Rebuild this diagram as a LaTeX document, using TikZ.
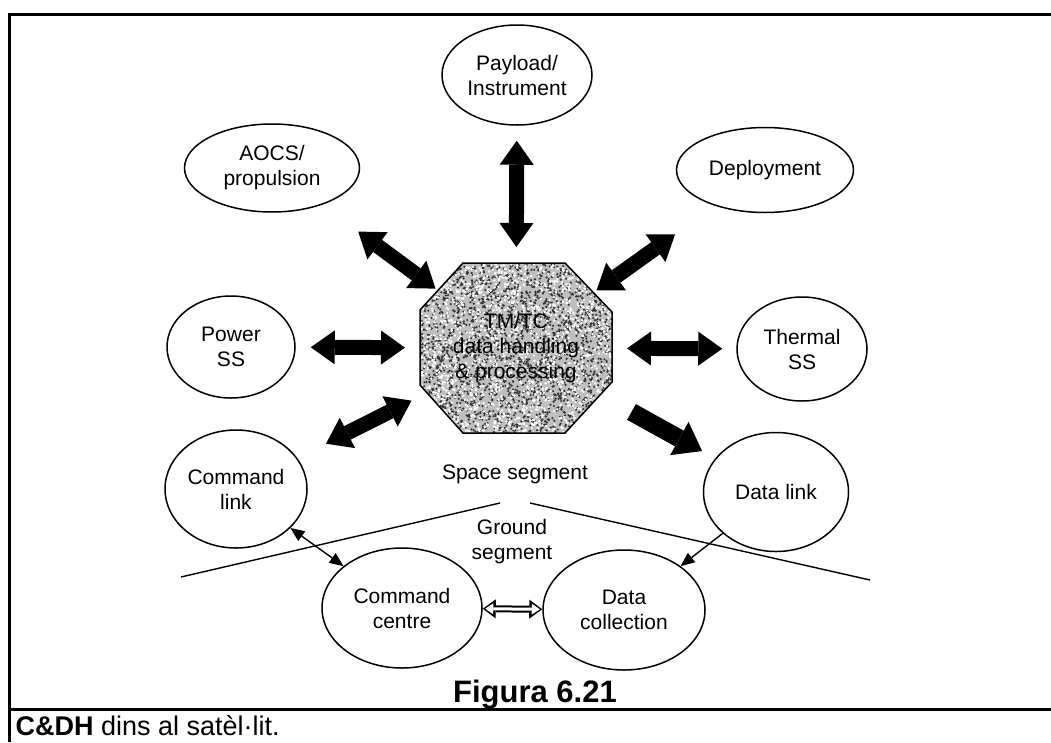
\documentclass[tikz,border=0pt]{standalone}
\usepackage{fontspec}
\setmainfont{Liberation Sans}
\usetikzlibrary{arrows.meta,shapes.geometric}

\newcommand{\blobfont}{\fontsize{21}{25}\selectfont}

\begin{document}
\begin{tikzpicture}[
  x=1pt, y=-1pt,
  every node/.style={font=\blobfont},
  subsys/.style={draw, ellipse, line width=1.5pt, inner sep=0pt, align=center},
  Fat/.tip={Triangle[length=24pt,width=34pt,line width=0pt]},
  Big/.tip={Triangle[length=26pt,width=38pt,line width=0pt]},
  Slim/.tip={Triangle[length=14pt,width=12pt,line width=0pt]},
  Hol/.tip={Triangle[length=13pt,width=19pt,line width=0pt]},
  Holin/.tip={Triangle[length=8pt,width=11pt,line width=0pt]},
  bus/.style={line width=15pt, Fat-Fat},
  downlink/.style={line width=18pt, -Big},
  link/.style={line width=1.4pt},
  rim/.style={line width=3pt}
]
\useasboundingbox (0,0) rectangle (1051,742);

% table frame
\draw[rim] (9.5,742) -- (9.5,14) -- (1051,14);
\draw[rim] (9.5,709.5) -- (1051,709.5);

% subsystems around the on-board computer
\node[subsys, minimum width=150pt, minimum height=100pt] (payload) at (517,75) {Payload/\\Instrument};
\node[subsys, minimum width=175pt, minimum height=88pt] (aocs) at (272,168) {AOCS/\\propulsion};
\node[subsys, minimum width=177pt, minimum height=85pt] (deploy) at (765,170) {Deployment};
\node[subsys, minimum width=128pt, minimum height=102pt] (power) at (231,347) {Power\\SS};
\node[subsys, minimum width=130pt, minimum height=104pt] (thermal) at (802,349) {Thermal\\SS};
\node[subsys, minimum width=142pt, minimum height=118pt] (cmdlink) at (236,489) {Command\\link};
\node[subsys, minimum width=145pt, minimum height=119pt] (datalink) at (776,492) {Data link};
\node[subsys, minimum width=160pt, minimum height=120pt] (cmdcentre) at (402,608) {Command\\centre};
\node[subsys, minimum width=162pt, minimum height=120pt] (datacoll) at (624,610) {Data\\collection};

% TM/TC octagon with a speckled fill
\coordinate (hub) at (516,348);
\coordinate (o1) at (463,263);
\coordinate (o2) at (565,263);
\coordinate (o3) at (612,312);
\coordinate (o4) at (612,382);
\coordinate (o5) at (565,433);
\coordinate (o6) at (463,433);
\coordinate (o7) at (420,385);
\coordinate (o8) at (420,310);
\begin{scope}
  \clip (o1) -- (o2) -- (o3) -- (o4) -- (o5) -- (o6) -- (o7) -- (o8) -- cycle;
  \fill[gray!50] (420,263) rectangle (612,433);
  \pgfmathsetseed{621}
  \foreach \i in {1,...,2600}
    \fill[black!80] (420+192*rnd,263+170*rnd) circle (1.2);
  \foreach \i in {1,...,1700}
    \fill[white] (420+192*rnd,263+170*rnd) circle (1.3);
\end{scope}
\draw[line width=1.5pt] (o1) -- (o2) -- (o3) -- (o4) -- (o5) -- (o6) -- (o7) -- (o8) -- cycle;
\node[align=center] (tmtc) at (hub) {TM/TC\\data handling\\\& processing};

% data buses to and from the hub
\draw[bus, shorten <=15pt, shorten >=101pt] (payload) -- (hub);
\draw[bus, shorten <=45pt, shorten >=100pt] (aocs) -- (hub);
\draw[bus, shorten <=49pt, shorten >=99pt] (deploy) -- (hub);
\draw[bus, shorten <=15pt, shorten >=111pt] (power) -- (hub);
\draw[bus, shorten <=14pt, shorten >=111pt] (thermal) -- (hub);
\draw[bus, shorten <=32pt, shorten >=117pt] (cmdlink) -- (hub);
\draw[downlink, shorten <=132pt, shorten >=15pt] (hub) -- (datalink);

% space / ground boundary
\draw[link] (181,577) -- (500,503);
\draw[link] (530,503) -- (870,580);
\node (space) at (515,474) {Space segment};
\node[align=center] (ground) at (512,542) {Ground\\segment};

% ground links
\draw[link, Slim-Slim] (cmdlink) -- (cmdcentre);
\draw[link, -Slim] (datalink) -- (datacoll);
\draw[line width=7pt, Hol-Hol] (cmdcentre) -- (datacoll);
\draw[white, line width=3pt, shorten <=2.5pt, shorten >=2.5pt, Holin-Holin] (cmdcentre) -- (datacoll);

% caption
\node[anchor=base, font=\fontsize{31}{36}\selectfont\bfseries] (fig) at (535,702) {Figura 6.21};
\node[anchor=base west, font=\fontsize{27}{32}\selectfont] (caption) at (12,735) {\textbf{C\&DH} dins al satèl·lit.};
\end{tikzpicture}
\end{document}
